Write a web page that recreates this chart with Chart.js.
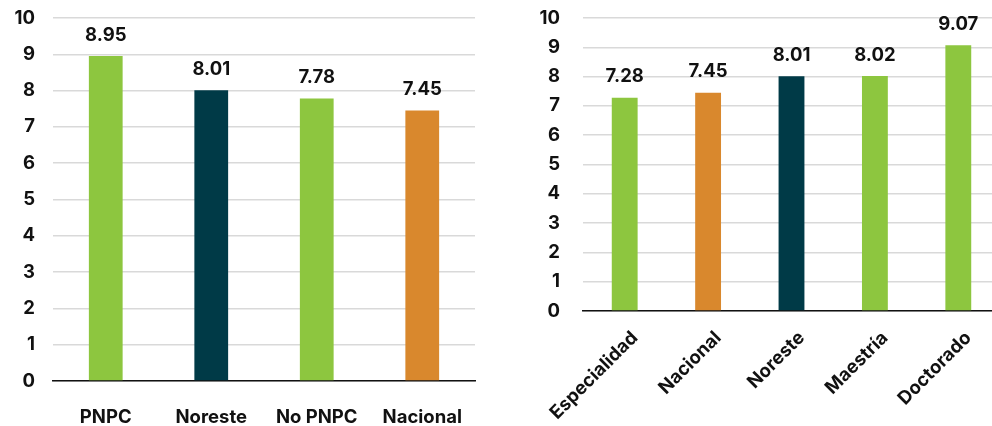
<!DOCTYPE html>
<html>
<head>
<meta charset="utf-8">
<script src="https://cdn.jsdelivr.net/npm/chart.js@4/dist/chart.umd.min.js"></script>
<style>
  html, body { margin: 0; padding: 0; background: #fff; overflow: hidden; }
  body { width: 992px; height: 426px; position: relative; }
  .panel { position: absolute; top: 0; height: 426px; }
  #left { left: 0; width: 480px; }
  #right { left: 520px; width: 490px; }
</style>
</head>
<body>
<div class="panel" id="left"><canvas id="programChart"></canvas></div>
<div class="panel" id="right"><canvas id="levelChart"></canvas></div>
<script>
// Left panel: program type vs region
const programLabels = ['PNPC', 'Noreste', 'No PNPC', 'Nacional'];
const programValues = [8.95, 8.01, 7.78, 7.45];
const programColors = ['#8dc63f', '#003a47', '#8dc63f', '#d9882d'];

// Right panel: degree level
const levelLabels = ['Especialidad', 'Nacional', 'Noreste', 'Maestría', 'Doctorado'];
const levelValues = [7.28, 7.45, 8.01, 8.02, 9.07];
const levelColors = ['#8dc63f', '#d9882d', '#003a47', '#8dc63f', '#8dc63f'];

const yTicks = [0, 1, 2, 3, 4, 5, 6, 7, 8, 9, 10];

const FONT = 'Inter, "Liberation Sans", sans-serif';

// draws the value above each bar
const valueLabels = {
    id: 'valueLabels',
    afterDatasetsDraw(chart) {
        const ctx = chart.ctx;
        const meta = chart.getDatasetMeta(0);
        ctx.save();
        ctx.font = 'bold 18.5px ' + FONT;
        ctx.fillStyle = '#111';
        ctx.textAlign = 'center';
        ctx.textBaseline = 'middle';
        meta.data.forEach((bar, i) => {
            const v = chart.data.datasets[0].data[i];
            ctx.fillText(v.toFixed(2), bar.x, bar.y - 21);
        });
        ctx.restore();
    }
};

function makeChart(id, labels, values, colors, opts) {
    return new Chart(document.getElementById(id), {
        type: 'bar',
        data: {
            labels: labels,
            datasets: [{
                data: values,
                backgroundColor: colors,
                barPercentage: opts.barPct,
                categoryPercentage: 1
            }]
        },
        options: {
            responsive: true,
            maintainAspectRatio: false,
            animation: false,
            layout: { padding: { top: 18, right: opts.rightPad, left: 0, bottom: 0 } },
            plugins: { legend: { display: false }, tooltip: { enabled: false } },
            scales: {
                x: {
                    grid: { display: false, drawTicks: false },
                    border: { color: '#111', width: 1.5 },
                    ticks: {
                        color: '#111',
                        font: { family: FONT, size: 18.5, weight: 'bold' },
                        padding: opts.xPad,
                        labelOffset: opts.xOffset,
                        minRotation: opts.rotate,
                        maxRotation: opts.rotate
                    },
                    afterFit: s => {
                        s.height = opts.xHeight;
                        s.paddingLeft = 0;
                        s.paddingRight = 0;
                    }
                },
                y: {
                    min: 0,
                    max: 10,
                    afterBuildTicks: s => { s.ticks = yTicks.map(v => ({ value: v })); },
                    grid: { color: '#d9d9d9', lineWidth: 1.5, drawTicks: false },
                    border: { display: false },
                    ticks: {
                        color: '#111',
                        font: { family: FONT, size: 18.5, weight: 'bold' },
                        padding: opts.yPad
                    },
                    afterFit: s => {
                        s.width = opts.yWidth;
                        s.paddingTop = 0;
                        s.paddingBottom = 0;
                    }
                }
            }
        },
        plugins: [valueLabels]
    });
}

makeChart('programChart', programLabels, programValues, programColors, {
    barPct: 0.32, rightPad: 5, xPad: 25, xOffset: 0, rotate: 0, xHeight: 45, yPad: 18, yWidth: 53
});

makeChart('levelChart', levelLabels, levelValues, levelColors, {
    barPct: 0.31, rightPad: 10, xPad: 16, xOffset: 10, rotate: 45, xHeight: 115, yPad: 23, yWidth: 63
});
</script>
</body>
</html>
